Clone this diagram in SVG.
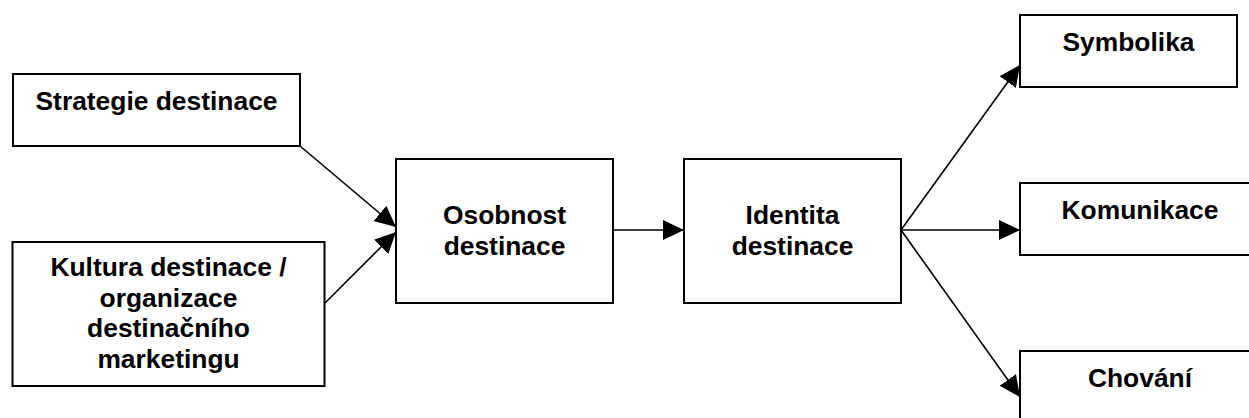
<svg xmlns="http://www.w3.org/2000/svg" width="1249" height="418" viewBox="0 0 1249 418">
  <style>
    .box { fill: #ffffff; stroke: #000000; stroke-width: 2; }
    .lbl { font-family: "Liberation Sans", Arial, sans-serif; font-weight: bold; font-size: 26.4px; fill: #000000; text-anchor: middle; }
    .link { fill: none; stroke: #000000; stroke-width: 1.6; marker-end: url(#arrow); }
  </style>
  <defs>
    <marker id="arrow" markerUnits="userSpaceOnUse" markerWidth="23" markerHeight="21" refX="21" refY="10" orient="auto">
      <path d="M0,0 L21,10 L0,20 Z" fill="#000000"/>
    </marker>
  </defs>
  <rect width="1249" height="418" fill="#ffffff"/>

  <g id="connectors">
    <line class="link" x1="300" y1="146" x2="396" y2="227"/>
    <line class="link" x1="325" y1="303" x2="396" y2="232"/>
    <line class="link" x1="613" y1="230" x2="684" y2="230"/>
    <line class="link" x1="901" y1="230" x2="1020" y2="65"/>
    <line class="link" x1="901" y1="230" x2="1020" y2="230"/>
    <line class="link" x1="901" y1="230" x2="1020" y2="397"/>
  </g>

  <g id="strategie">
    <rect class="box" x="13" y="74" width="287" height="72"/>
    <text class="lbl" x="156.5" y="110">Strategie destinace</text>
  </g>

  <g id="kultura">
    <rect class="box" x="12.5" y="242" width="312" height="144"/>
    <text class="lbl" x="168.5" y="276">Kultura destinace /</text>
    <text class="lbl" x="168.5" y="306.5">organizace</text>
    <text class="lbl" x="168.5" y="337">destinačního</text>
    <text class="lbl" x="168.5" y="367.5">marketingu</text>
  </g>

  <g id="osobnost">
    <rect class="box" x="396" y="159" width="217" height="144"/>
    <text class="lbl" x="504.5" y="224">Osobnost</text>
    <text class="lbl" x="504.5" y="255">destinace</text>
  </g>

  <g id="identita">
    <rect class="box" x="684" y="159" width="217" height="144"/>
    <text class="lbl" x="792.5" y="224">Identita</text>
    <text class="lbl" x="792.5" y="255">destinace</text>
  </g>

  <g id="symbolika">
    <rect class="box" x="1020" y="15" width="217" height="72"/>
    <text class="lbl" x="1128.5" y="51">Symbolika</text>
  </g>

  <g id="komunikace">
    <rect class="box" x="1020" y="183" width="240" height="72"/>
    <text class="lbl" x="1140" y="219">Komunikace</text>
  </g>

  <g id="chovani">
    <rect class="box" x="1020" y="351" width="240" height="72"/>
    <text class="lbl" x="1140" y="387">Chování</text>
  </g>
</svg>
